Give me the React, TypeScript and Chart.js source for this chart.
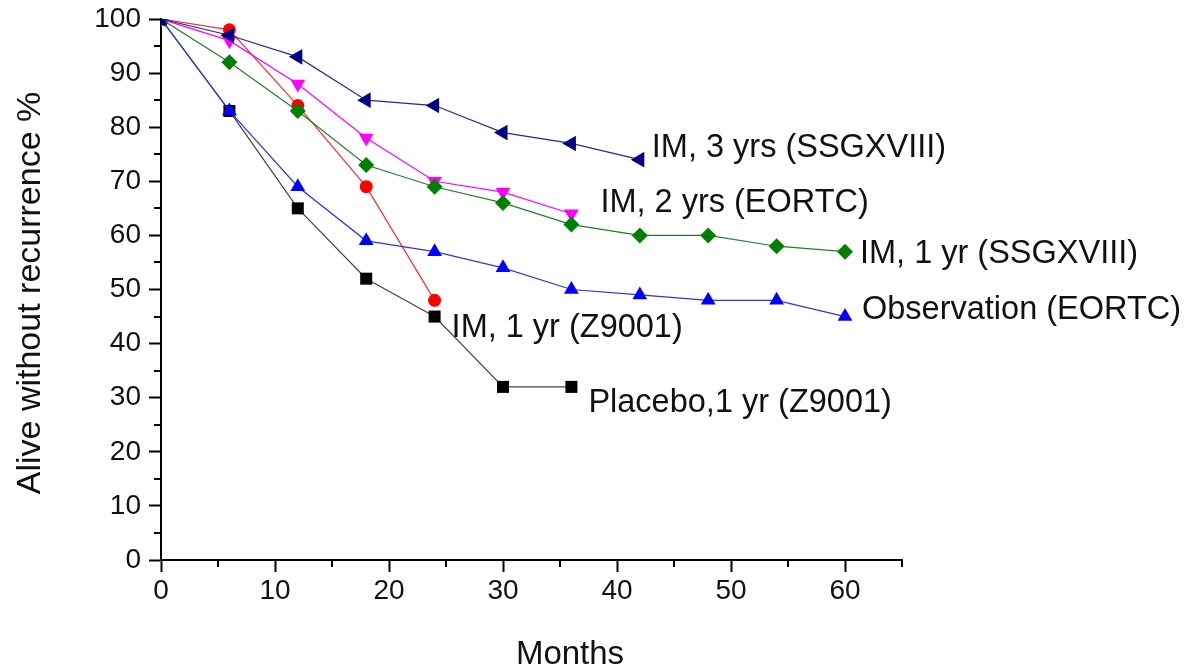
import React, { useEffect, useRef } from 'react';
import { Chart, registerables } from 'chart.js';

Chart.register(...registerables);

// ---- data ----
const months = [0, 6, 12, 18, 24, 30, 36, 42, 48, 54, 60];
const im3ySSGXVIII = [100, 97, 93, 85, 84, 79, 77, 74];
const im2yEORTC = [100, 96, 88, 78, 70, 68, 64];
const im1ySSGXVIII = [100, 92, 83, 73, 69, 66, 62, 60, 60, 58, 57];
const observationEORTC = [100, 83, 69, 59, 57, 54, 50, 49, 48, 48, 45];
const im1yZ9001 = [100, 98, 84, 69, 48];
const placebo1yZ9001 = [100, 83, 65, 52, 45, 32, 32];

const seriesNames = [
  'IM, 3 yrs (SSGXVIII)',
  'IM, 2 yrs (EORTC)',
  'IM, 1 yr (SSGXVIII)',
  'Observation (EORTC)',
  'IM, 1 yr (Z9001)',
  'Placebo,1 yr (Z9001)',
];
const xMajorTicks = [0, 10, 20, 30, 40, 50, 60];
const xMinorTicks = [5, 15, 25, 35, 45, 55, 65];
const yMajorTicks = [0, 10, 20, 30, 40, 50, 60, 70, 80, 90, 100];
const yMinorTicks = [5, 15, 25, 35, 45, 55, 65, 75, 85, 95];
const xTitle = 'Months';
const yTitle = 'Alive without recurrence %';

// ---- styles ----
const FONT = "'Liberation Sans', Arial, sans-serif";
const labelOffsets = [
  [12, -3],
  [29, -2],
  [15, 11],
  [17, 2],
  [17, 37],
  [17, 25],
];

function toPoints(values: number[]) {
  return values.map((v, i) => ({ x: months[i], y: v }));
}

const textPlugin = {
  id: 'textPlugin',
  afterDatasetsDraw(chart: any) {
    const ctx = chart.ctx;
    const xs = chart.scales.x;
    const ys = chart.scales.y;
    ctx.save();
    // minor ticks
    ctx.strokeStyle = '#000';
    ctx.lineWidth = 2;
    ctx.beginPath();
    xMinorTicks.forEach((v) => {
      const px = Math.round(xs.getPixelForValue(v));
      ctx.moveTo(px, ys.bottom);
      ctx.lineTo(px, ys.bottom + 7);
    });
    yMinorTicks.forEach((v) => {
      const py = Math.round(ys.getPixelForValue(v));
      ctx.moveTo(xs.left, py);
      ctx.lineTo(xs.left - 7, py);
    });
    ctx.stroke();

    // series labels
    ctx.fillStyle = '#111';
    ctx.font = `32.5px ${FONT}`;
    ctx.textAlign = 'left';
    ctx.textBaseline = 'alphabetic';
    chart.data.datasets.forEach((ds: any, i: number) => {
      const meta = chart.getDatasetMeta(i);
      const last = meta.data[meta.data.length - 1];
      const off = labelOffsets[i];
      ctx.fillText(ds.label, last.x + off[0], last.y + off[1]);
    });

    // axis titles
    ctx.font = `33px ${FONT}`;
    ctx.textAlign = 'center';
    ctx.fillText(xTitle, 570, 664);
    ctx.translate(31, 293);
    ctx.rotate(-Math.PI / 2);
    ctx.textBaseline = 'middle';
    ctx.font = `34px ${FONT}`;
    ctx.fillText(yTitle, 0, 0);
    ctx.restore();
  },
};

export default function App() {
  const ref = useRef<HTMLCanvasElement | null>(null);

  useEffect(() => {
    document.body.style.margin = '0';
    const canvas = ref.current;
    if (!canvas) return;
    const mk = (
      i: number,
      values: number[],
      color: string,
      lineColor: string,
      pointStyle: string,
      radius: number,
      rotation: number,
      order: number
    ) => ({
      label: seriesNames[i],
      data: toPoints(values),
      borderColor: lineColor,
      backgroundColor: color,
      pointBackgroundColor: color,
      pointBorderColor: color,
      pointBorderWidth: 0,
      borderWidth: 1.2,
      pointStyle,
      pointRadius: radius,
      pointRotation: rotation,
      tension: 0,
      fill: false,
      order,
    });

    const chart = new Chart(canvas, {
      type: 'line',
      data: {
        datasets: [
          mk(0, im3ySSGXVIII, '#000080', '#2a2a8a', 'triangle', 9, -90, 0),
          mk(1, im2yEORTC, '#ff00ff', '#ff00ff', 'triangle', 8.5, 180, 2),
          mk(2, im1ySSGXVIII, '#008000', '#2a7a2a', 'rectRot', 8, 0, 1),
          mk(3, observationEORTC, '#0000ff', '#3333dd', 'triangle', 8.5, 0, 3),
          mk(4, im1yZ9001, '#ff0000', '#ee3333', 'circle', 6.5, 0, 5),
          mk(5, placebo1yZ9001, '#000000', '#444444', 'rect', 8.5, 0, 4),
        ] as any,
      },
      options: {
        animation: false,
        responsive: false,
        maintainAspectRatio: false,
        layout: { padding: { left: 0, top: 19, right: 293, bottom: 0 } },
        plugins: {
          legend: { display: false },
          tooltip: { enabled: false },
        },
        scales: {
          x: {
            type: 'linear',
            min: 0,
            max: 65,
            afterBuildTicks: (scale: any) => {
              scale.ticks = xMajorTicks.map((v) => ({ value: v }));
            },
            afterFit: (scale: any) => {
              scale.height = 108;
              scale.paddingLeft = 0;
              scale.paddingRight = 0;
            },
            grid: {
              drawOnChartArea: false,
              drawTicks: true,
              tickLength: 12,
              tickWidth: 2,
              tickColor: '#000',
            },
            border: { display: true, color: '#000', width: 2 },
            ticks: {
              color: '#111',
              padding: 2,
              font: { family: FONT, size: 28 },
              maxRotation: 0,
            },
          },
          y: {
            type: 'linear',
            min: 0,
            max: 100,
            afterBuildTicks: (scale: any) => {
              scale.ticks = yMajorTicks.map((v) => ({ value: v }));
            },
            afterFit: (scale: any) => {
              scale.width = 161;
              scale.paddingTop = 0;
              scale.paddingBottom = 0;
            },
            grid: {
              drawOnChartArea: false,
              drawTicks: true,
              tickLength: 12,
              tickWidth: 2,
              tickColor: '#000',
            },
            border: { display: true, color: '#000', width: 2 },
            ticks: {
              color: '#111',
              padding: 8,
              font: { family: FONT, size: 28 },
            },
          },
        },
      },
      plugins: [textPlugin],
    } as any);
    return () => chart.destroy();
  }, []);

  return (
    <div style={{ width: 1195, height: 668, background: '#fff' }}>
      <canvas ref={ref} width={1195} height={668} />
    </div>
  );
}
